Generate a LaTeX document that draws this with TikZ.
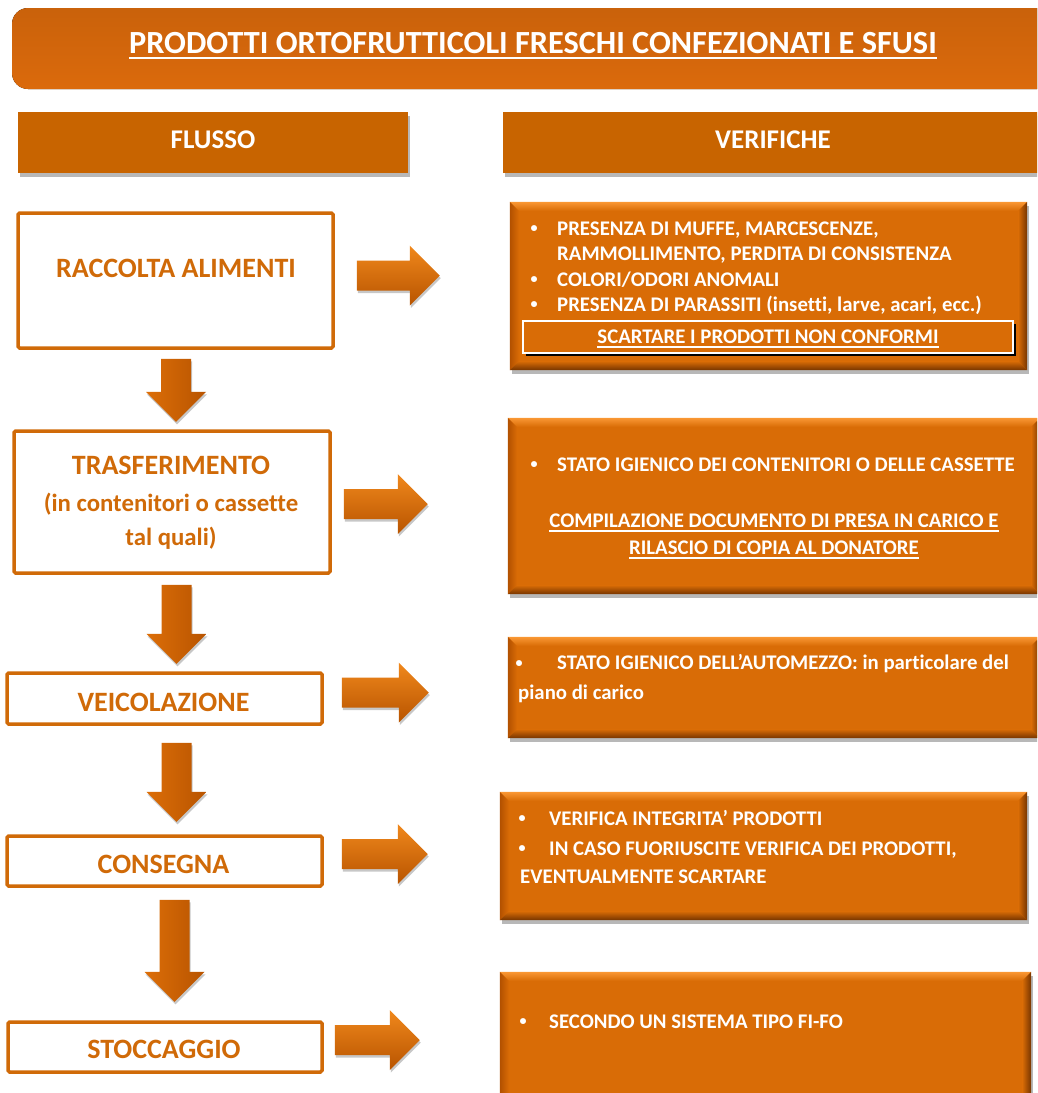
\documentclass[tikz,border=0pt]{standalone}
\usepackage{fontspec}
\usepackage{graphicx}
\setmainfont{Carlito}[Ligatures=NoCommon]
\usetikzlibrary{calc,shadows}

\definecolor{titleor}{RGB}{219,106,12}
\definecolor{heador}{RGB}{200,100,0}
\definecolor{boxor}{RGB}{217,108,6}
\definecolor{lineor}{RGB}{208,106,8}
\definecolor{bevlight}{RGB}{250,152,52}
\definecolor{bevdark}{RGB}{118,52,0}
\definecolor{bevside}{RGB}{178,80,0}
\definecolor{arrlight}{RGB}{240,136,28}
\definecolor{arrmid}{RGB}{220,110,8}
\definecolor{arrdark}{RGB}{184,84,0}

% underlined text: #1 = drop of the rule below the baseline, #2 = rule thickness
\newcommand\uln[3]{\leavevmode\setbox0=\hbox{#3}\rlap{\copy0}\rule[-#1]{\wd0}{#2}}

% bevelled frame drawn over a filled check box
\newcommand\bevelize[1]{%
  \shade[top color=bevlight, bottom color=boxor]
    (#1.north west) -- (#1.north east) -- ($(#1.north east)+(-9,9)$) -- ($(#1.north west)+(9,9)$) -- cycle;
  \shade[left color=bevside, right color=boxor]
    (#1.north west) -- ($(#1.north west)+(9,9)$) -- ($(#1.south west)+(9,-9)$) -- (#1.south west) -- cycle;
  \shade[top color=boxor, bottom color=bevdark]
    (#1.south west) -- ($(#1.south west)+(9,-9)$) -- ($(#1.south east)+(-9,-9)$) -- (#1.south east) -- cycle;
  \shade[left color=boxor, right color=bevdark]
    (#1.north east) -- (#1.south east) -- ($(#1.south east)+(-9,-9)$) -- ($(#1.north east)+(-9,9)$) -- cycle;
}

\tikzset{
  softshadow/.style={drop shadow={shadow xshift=1.5pt, shadow yshift=-3.5pt, opacity=0.28, fill=black}},
  arrowshadow/.style={drop shadow={shadow xshift=1pt, shadow yshift=-2.5pt, opacity=0.22, fill=black}},
  stepbox/.style={draw=lineor, line width=3.5pt, fill=white, rounded corners=1.5pt, inner sep=0pt},
  steptext/.style={text=lineor, font=\fontsize{28}{34}\selectfont\bfseries, inner sep=0pt, anchor=base},
  stepsub/.style={steptext, font=\fontsize{24.8}{30}\selectfont\bfseries},
  headbox/.style={fill=heador, inner sep=0pt, softshadow},
  headtext/.style={text=white, font=\fontsize{27}{33}\selectfont\bfseries, inner sep=0pt, anchor=base},
  checkbox/.style={fill=boxor, inner sep=0pt, softshadow},
  checktext/.style={text=white, font=\fontsize{20.8}{25}\selectfont\bfseries, inner sep=0pt, anchor=base west},
  checkmid/.style={checktext, anchor=base},
  pics/downarrow/.style={code={
    \shade[left color=arrmid, middle color=arrlight, right color=arrdark, arrowshadow]
      (-15,0) -- (15,0) -- (15,#1-30) -- (30,#1-30) -- (0,#1) -- (-30,#1-30) -- (-15,#1-30) -- cycle;
  }},
  pics/rightarrow/.style={code={
    \shade[top color=arrlight, middle color=arrmid, bottom color=arrdark, arrowshadow]
      (0,-15) -- (#1-30,-15) -- (#1-30,-30) -- (#1,0) -- (#1-30,30) -- (#1-30,15) -- (0,15) -- cycle;
  }},
}

% small bullet in a box of given width
\newcommand\bul[1]{\makebox[#1][l]{\hspace*{1pt}\raisebox{2.2pt}{\scalebox{0.68}{\textbullet}}}}

\begin{document}
\begin{tikzpicture}[x=1pt, y=-1pt]
  \useasboundingbox (0,0) rectangle (1037,1093);
  \clip (0,0) rectangle (1037,1093);

  % title banner
  \fill[top color=titleor!92!black, bottom color=titleor, rounded corners=16pt]
    (12,8) rectangle (1080,89);
  \node[text=white, font=\fontsize{32.3}{38}\selectfont\bfseries, inner sep=0pt, anchor=base]
    (title) at (533,53) {\uln{6pt}{2pt}{PRODOTTI ORTOFRUTTICOLI FRESCHI CONFEZIONATI E SFUSI}};

  % column headers
  \node[headbox, minimum width=390pt, minimum height=61pt] (fl) at (213,142.5) {};
  \node[headbox, minimum width=560pt, minimum height=61pt, anchor=west] (ve) at (503,142.5) {};
  \node[headtext] (flt) at (213,148) {FLUSSO};
  \node[headtext] (vet) at (773,148) {VERIFICHE};

  % flow steps
  \node[stepbox, minimum width=315pt, minimum height=135pt] (rac) at (175.5,280.5) {};
  \node[stepbox, minimum width=316pt, minimum height=142pt] (tra) at (172,502) {};
  \node[stepbox, minimum width=315pt, minimum height=51pt]  (vei) at (164.5,698.5) {};
  \node[stepbox, minimum width=315pt, minimum height=50pt]  (con) at (164.5,861) {};
  \node[stepbox, minimum width=314pt, minimum height=50pt]  (sto) at (165,1047) {};

  \node[steptext] (ract)  at (176,277) {RACCOLTA ALIMENTI};
  \node[steptext] (trat1) at (171,474) {TRASFERIMENTO};
  \node[stepsub]  (trat2) at (171,511) {(in contenitori o cassette};
  \node[stepsub]  (trat3) at (171,545) {tal quali)};
  \node[steptext] (veit)  at (163.5,711) {VEICOLAZIONE};
  \node[steptext] (cont)  at (163.5,873) {CONSEGNA};
  \node[steptext] (stot)  at (164,1058) {STOCCAGGIO};

  % arrows down the flow
  \pic at ($(rac.south)+(0.5,9)$)  {downarrow=63};
  \pic at ($(tra.south)+(4.5,10)$) {downarrow=79};
  \pic at ($(vei.south)+(12,17)$)  {downarrow=79};
  \pic at ($(con.south)+(10,12)$)  {downarrow=102};

  % check boxes
  \node[checkbox, minimum width=517pt, minimum height=168pt] (v1) at (768.5,286) {};
  \node[checkbox, minimum width=532pt, minimum height=176pt] (v2) at (774,506) {};
  \node[checkbox, minimum width=532pt, minimum height=101pt] (v3) at (774,687.5) {};
  \node[checkbox, minimum width=527pt, minimum height=128pt] (v4) at (763.5,856) {};
  \node[checkbox, minimum width=531pt, minimum height=140pt] (v5) at (765.5,1042) {};
  \bevelize{v1}
  \bevelize{v2}
  \bevelize{v3}
  \bevelize{v4}
  \bevelize{v5}

  % arrows from each step to its checks
  \pic at ($(rac.east)+(22,-5)$) {rightarrow=83};
  \pic at ($(tra.east)+(12,2)$)  {rightarrow=84};
  \pic at ($(vei.east)+(18,-6)$) {rightarrow=87};
  \pic at ($(con.east)+(18,-7)$) {rightarrow=86};
  \pic at ($(sto.east)+(11,-7)$) {rightarrow=85};

  % checks after collection
  \node[checktext] (v1a) at (529.5,235) {\bul{27.5pt}PRESENZA DI MUFFE, MARCESCENZE,};
  \node[checktext] (v1b) at (557,260) {RAMMOLLIMENTO, PERDITA DI CONSISTENZA};
  \node[checktext] (v1c) at (529.5,286) {\bul{27.5pt}COLORI/ODORI ANOMALI};
  \node[checktext] (v1d) at (529.5,311) {\bul{27.5pt}PRESENZA DI PARASSITI (insetti, larve, acari, ecc.)};
  \fill[black] (526,324) rectangle (1016,356);
  \node[fill=boxor, draw=white, line width=2pt, minimum width=490pt, minimum height=32pt, inner sep=0pt]
    (v1box) at (768,337) {};
  \node[checkmid] (v1e) at (768,343) {\uln{4.5pt}{1.5pt}{SCARTARE I PRODOTTI NON CONFORMI}};

  % checks after transfer
  \node[checktext] (v2a) at (529.5,471) {\bul{27.5pt}STATO IGIENICO DEI CONTENITORI O DELLE CASSETTE};
  \node[checkmid] (v2b) at (774,527) {\uln{4.5pt}{1.5pt}{COMPILAZIONE DOCUMENTO DI PRESA IN CARICO E}};
  \node[checkmid] (v2c) at (774,554) {\uln{4.5pt}{1.5pt}{RILASCIO DI COPIA AL DONATORE}};

  % checks during transport
  \node[checktext] (v3a) at (514.5,669.5) {\bul{42.5pt}STATO IGIENICO DELL’AUTOMEZZO: in particolare del};
  \node[checktext] (v3b) at (518,699.5) {piano di carico};

  % checks at delivery
  \node[checktext] (v4a) at (517.5,825) {\bul{31.5pt}VERIFICA INTEGRITA’ PRODOTTI};
  \node[checktext] (v4b) at (517.5,855) {\bul{31.5pt}IN CASO FUORIUSCITE VERIFICA DEI PRODOTTI,};
  \node[checktext] (v4c) at (520,883.5) {EVENTUALMENTE SCARTARE};

  % checks in storage
  \node[checktext] (v5a) at (518.5,1028) {\bul{30.5pt}SECONDO UN SISTEMA TIPO FI-FO};
\end{tikzpicture}
\end{document}
